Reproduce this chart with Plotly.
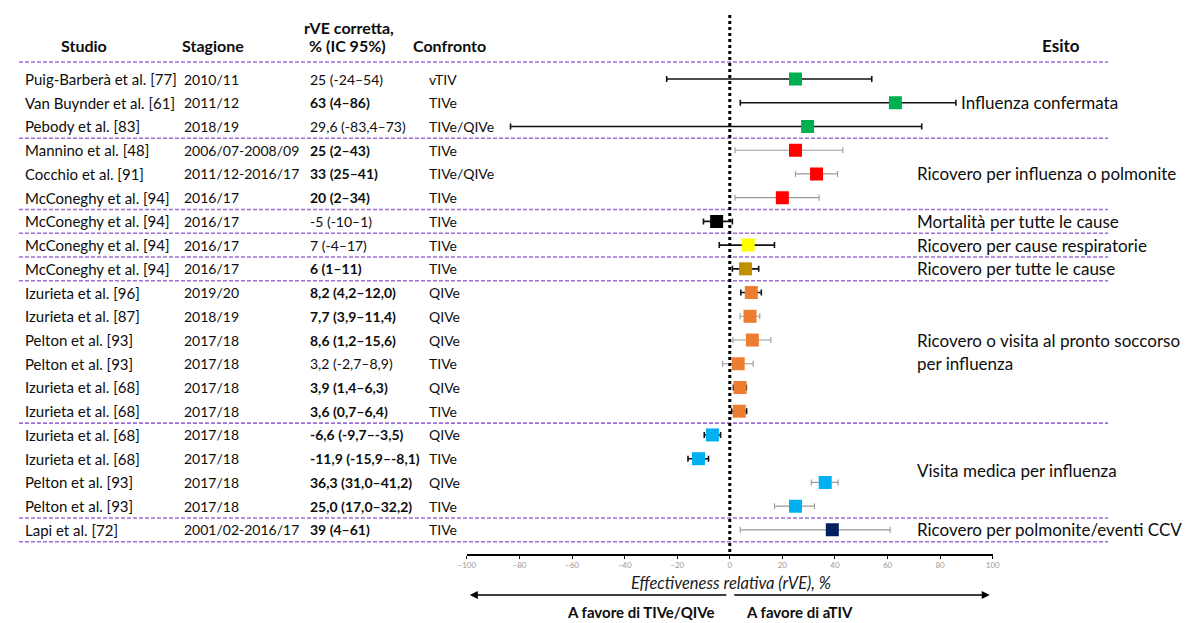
import plotly.graph_objects as go

# ---------------- data ----------------
studies = ["Puig-Barberà et al. [77]", "Van Buynder et al. [61]", "Pebody et al. [83]",
           "Mannino et al. [48]", "Cocchio et al. [91]", "McConeghy et al. [94]",
           "McConeghy et al. [94]", "McConeghy et al. [94]", "McConeghy et al. [94]",
           "Izurieta et al. [96]", "Izurieta et al. [87]", "Pelton et al. [93]",
           "Pelton et al. [93]", "Izurieta et al. [68]", "Izurieta et al. [68]",
           "Izurieta et al. [68]", "Izurieta et al. [68]", "Pelton et al. [93]",
           "Pelton et al. [93]", "Lapi et al. [72]"]
seasons = ["2010/11", "2011/12", "2018/19", "2006/07-2008/09", "2011/12-2016/17", "2016/17",
           "2016/17", "2016/17", "2016/17", "2019/20", "2018/19", "2017/18", "2017/18",
           "2017/18", "2017/18", "2017/18", "2017/18", "2017/18", "2017/18", "2001/02-2016/17"]
rve_labels = ["25 (-24–54)", "63 (4–86)", "29,6 (-83,4–73)", "25 (2–43)", "33 (25–41)",
              "20 (2–34)", "-5 (-10–1)", "7 (-4–17)", "6 (1–11)", "8,2 (4,2–12,0)",
              "7,7 (3,9–11,4)", "8,6 (1,2–15,6)", "3,2 (-2,7–8,9)", "3,9 (1,4–6,3)",
              "3,6 (0,7–6,4)", "-6,6 (-9,7–-3,5)", "-11,9 (-15,9–-8,1)", "36,3 (31,0–41,2)",
              "25,0 (17,0–32,2)", "39 (4–61)"]
rve_bold = [False, True, False, True, True, True, False, False, True, True, True, True,
            False, True, True, True, True, True, True, True]
comparators = ["vTIV", "TIVe", "TIVe/QIVe", "TIVe", "TIVe/QIVe", "TIVe", "TIVe", "TIVe",
               "TIVe", "QIVe", "QIVe", "QIVe", "TIVe", "QIVe", "TIVe", "QIVe", "TIVe",
               "QIVe", "TIVe", "TIVe"]
rve = [25, 63, 29.6, 25, 33, 20, -5, 7, 6, 8.2, 7.7, 8.6, 3.2, 3.9, 3.6, -6.6, -11.9,
       36.3, 25.0, 39]
ci_low = [-24, 4, -83.4, 2, 25, 2, -10, -4, 1, 4.2, 3.9, 1.2, -2.7, 1.4, 0.7, -9.7, -15.9,
          31.0, 17.0, 4]
ci_high = [54, 86, 73, 43, 41, 34, 1, 17, 11, 12.0, 11.4, 15.6, 8.9, 6.3, 6.4, -3.5, -8.1,
           41.2, 32.2, 61]
marker_colors = ["#00B050"] * 3 + ["#FF0000"] * 3 + ["#000000", "#FFFF00", "#BF9000"] + \
                ["#ED7D31"] * 6 + ["#00B0F0"] * 4 + ["#002060"]
whisker_dark = [True, True, True, False, False, False, True, True, True, True, False,
                False, False, True, True, True, True, False, False, False]
group_breaks = [2, 5, 6, 7, 8, 14, 18, 19]
outcomes = [("Influenza confermata", 1, 963),
            ("Ricovero per influenza o polmonite", 4, 918),
            ("Mortalità per tutte le cause", 6, 918),
            ("Ricovero per cause respiratorie", 7, 918),
            ("Ricovero per tutte le cause", 8, 918),
            ("Ricovero o visita al pronto soccorso", 11, 918),
            ("per influenza", 12, 918),
            ("Visita medica per influenza", 16.5, 918),
            ("Ricovero per polmonite/eventi CCV", 19, 918)]
x_ticks = [-100, -80, -60, -40, -20, 0, 20, 40, 60, 80, 100]

# ---------------- layout helpers (screen pixels -> figure coords) ----------------
OFF = 8                      # page body margin
W, H = 1197 - OFF, 623 - OFF
AXIS_Y = 554                 # screen y of the x axis line
ROW0, ROWSTEP = 79, 23.73    # screen y of first row, row spacing
FONT = "Lato, 'Open Sans', sans-serif"
TXT = "#0d0d0d"


def px(sx):
    return (sx - OFF) / W


def py(sy):
    return (AXIS_Y - sy) / (AXIS_Y - OFF)


def row_of(sy):
    return (sy - ROW0) / ROWSTEP


fig = go.Figure()

for i in range(len(rve)):
    dark = whisker_dark[i]
    fig.add_trace(go.Scatter(
        x=[rve[i]], y=[i], mode="markers",
        marker=dict(symbol="square", size=13, color=marker_colors[i], line=dict(width=0)),
        error_x=dict(type="data", symmetric=False,
                     array=[ci_high[i] - rve[i]], arrayminus=[rve[i] - ci_low[i]],
                     color="#111111" if dark else "#9a9a9a",
                     thickness=1.6 if dark else 1.1, width=3),
        showlegend=False, hoverinfo="skip"))

shapes = []
sep_rows = [row_of(62)] + [b + 0.5 for b in group_breaks]
for yy in sep_rows:
    shapes.append(dict(type="line", xref="paper", yref="y", x0=px(10), x1=px(1114),
                       y0=yy, y1=yy, line=dict(color="#9c6fd6", width=1.6, dash="4px,2px")))
shapes.append(dict(type="line", xref="x", yref="y", x0=0, x1=0, y0=row_of(15),
                   y1=row_of(AXIS_Y + 2), line=dict(color="black", width=3, dash="dot")))

ann = []


def text(x, y, s, size=14, bold=False, xanchor="left", yref="y", italic=False, color=TXT):
    if bold:
        s = "<b>" + s + "</b>"
    if italic:
        s = "<i>" + s + "</i>"
    ann.append(dict(x=x, y=y, xref="paper", yref=yref, text=s, showarrow=False,
                    xanchor=xanchor, yanchor="middle",
                    font=dict(family=FONT, size=size, color=color)))


hy = row_of(45)
text(px(76), hy, "Studio", 16, True, "center")
text(px(207), hy, "Stagione", 16, True, "center")
text(px(345), row_of(27), "rVE corretta,", 16, True, "center")
text(px(343), hy, "% (IC 95%)", 16, True, "center")
text(px(446), hy, "Confronto", 16, True, "center")
text(px(1066), hy, "Esito", 17, True, "center")

for i in range(len(rve)):
    text(px(14), i, studies[i], 15)
    text(px(175), i, seasons[i], 14)
    text(px(303), i, rve_labels[i], 14, bold=rve_bold[i])
    text(px(424), i, comparators[i], 14)

for label, r, xp in outcomes:
    text(px(xp), r, label, 17)

text(px(732), py(583), "Effectiveness relativa (rVE), %", 16.5, xanchor="center",
     yref="paper", italic=True, color="#1a1a1a")
text(px(717), py(612), "A favore di TIVe/QIVe", 15, True, "right", yref="paper")
text(px(745), py(612), "A favore di aTIV", 15, True, "left", yref="paper")

ann.append(dict(x=px(467), y=py(595), xref="paper", yref="paper", ax=725 - 467, ay=0,
                text="", showarrow=True, arrowhead=2, arrowsize=1, arrowwidth=1.6,
                arrowcolor="black"))
ann.append(dict(x=px(994), y=py(595), xref="paper", yref="paper", ax=737 - 994, ay=0,
                text="", showarrow=True, arrowhead=2, arrowsize=1, arrowwidth=1.6,
                arrowcolor="black"))

fig.update_layout(
    width=W, height=H,
    margin=dict(l=0, r=0, t=0, b=H - (AXIS_Y - OFF), pad=0),
    paper_bgcolor="white", plot_bgcolor="white",
    shapes=shapes, annotations=ann,
    xaxis=dict(range=[-100, 100], domain=[px(464), px(997)], tickvals=x_ticks,
               ticks="outside", ticklen=3, tickcolor="black", tickwidth=1,
               showline=True, linecolor="black", linewidth=1.6,
               showgrid=False, zeroline=False,
               tickfont=dict(family=FONT, size=8, color="#999999")),
    yaxis=dict(range=[row_of(AXIS_Y), row_of(OFF)], visible=False, showgrid=False,
               zeroline=False),
)

fig.write_html("out.html")
